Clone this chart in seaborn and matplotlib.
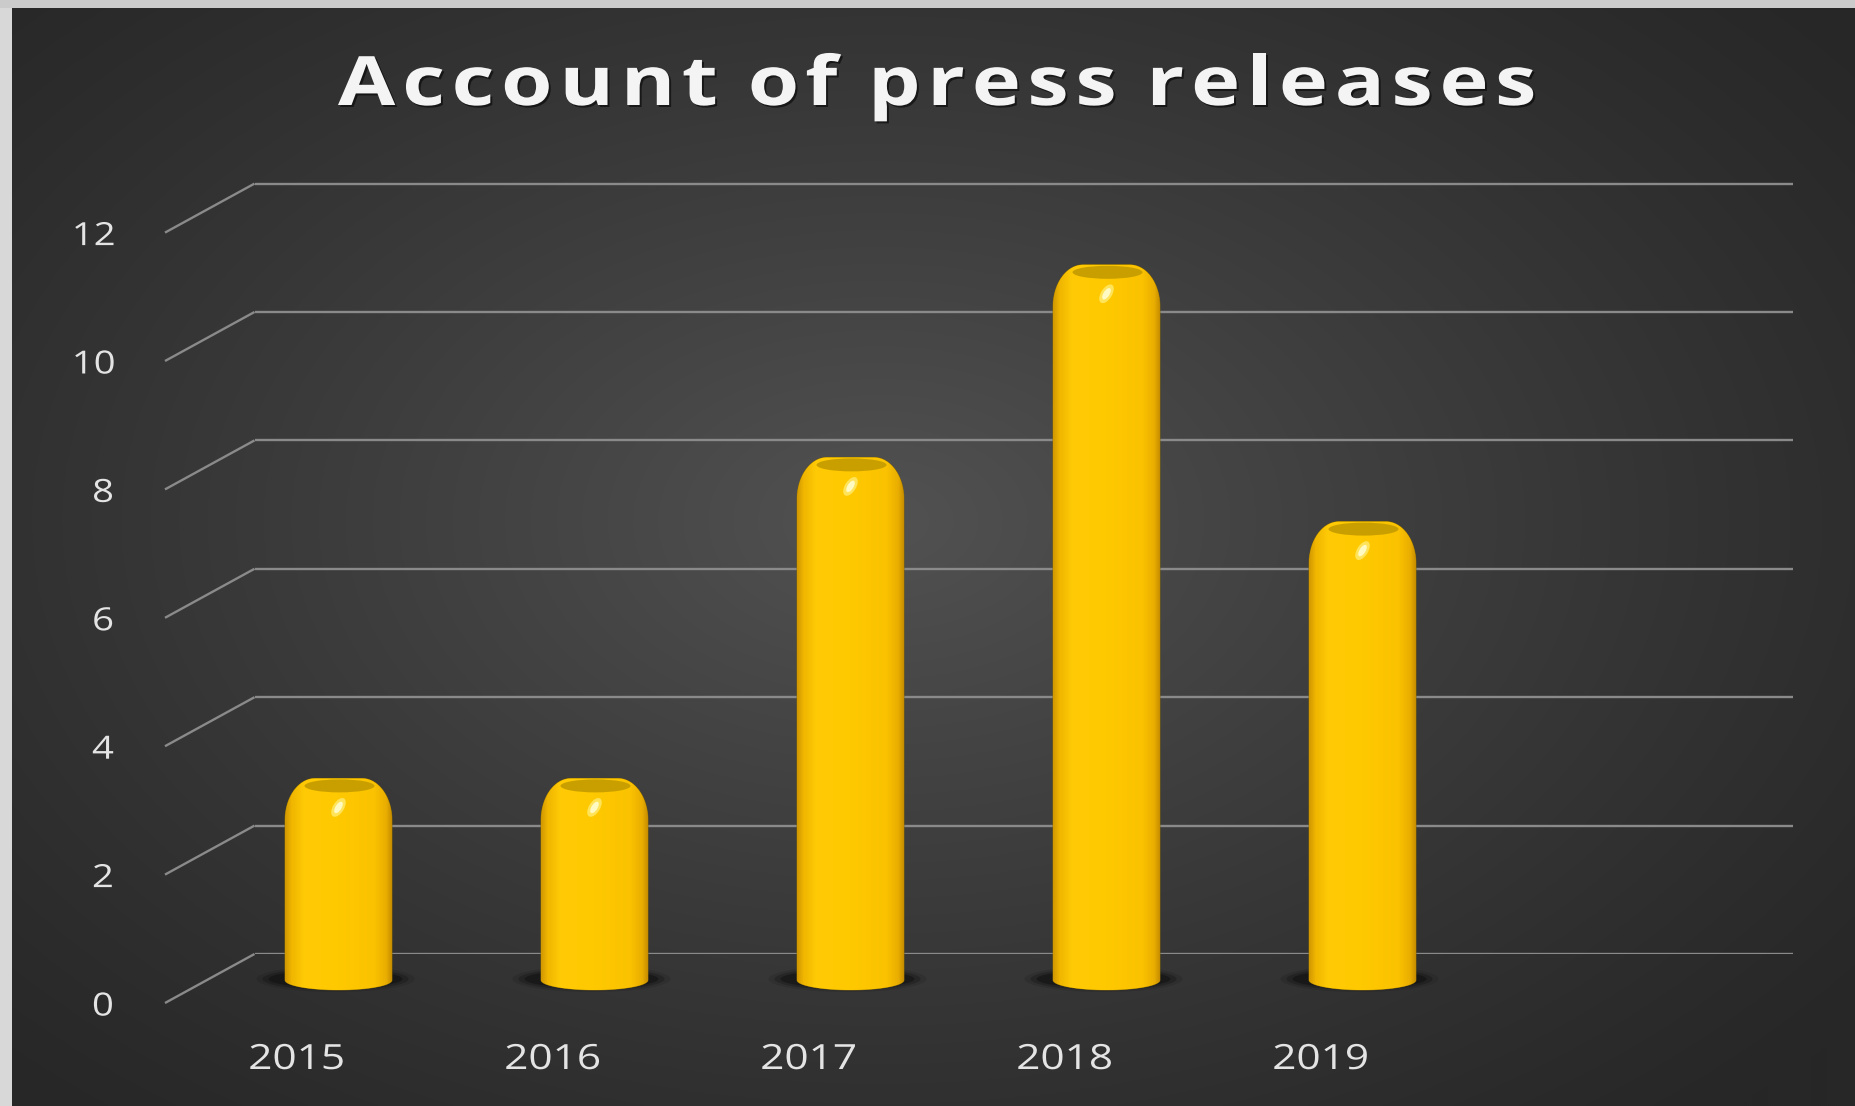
import numpy as np
import matplotlib
matplotlib.use("Agg")
import matplotlib.pyplot as plt
import seaborn as sns
import pandas as pd
from matplotlib import transforms, patheffects
from matplotlib.patches import Polygon, Ellipse, Rectangle
from matplotlib.colors import LinearSegmentedColormap

# ---------------- data ----------------
years = ["2015", "2016", "2017", "2018", "2019"]
counts = [3, 3, 8, 11, 7]
y_ticks = [0, 2, 4, 6, 8, 10, 12]
title = "Account of press releases"

# ---------------- setup ----------------
W, H = 1855, 1106
DPI = 100
sns.set_theme(style="white")
plt.rcParams['font.family'] = ['Open Sans', 'DejaVu Sans']

fig = plt.figure(figsize=(W / DPI, H / DPI), dpi=DPI)
fig.patch.set_facecolor('#2a2a2a')


class Stretch(patheffects.AbstractPathEffect):
    """Widen glyphs horizontally about their centre, optional drop shadow."""

    def __init__(self, sx=1.2, shadow=False, offset=(2, -2), alpha=0.5):
        super().__init__()
        self.sx = sx
        self.shadow = shadow
        self.off = offset
        self.alpha = alpha

    def draw_path(self, renderer, gc, tpath, affine, rgbFace=None):
        v = tpath.vertices
        cx = (v[:, 0].min() + v[:, 0].max()) / 2 if len(v) else 0
        st = transforms.Affine2D().translate(-cx, 0).scale(self.sx, 1).translate(cx, 0)
        if self.shadow:
            gc0 = renderer.new_gc()
            gc0.copy_properties(gc)
            gc0.set_foreground('black')
            gc0.set_alpha(self.alpha)
            renderer.draw_path(gc0, tpath,
                               st + affine + transforms.Affine2D().translate(*self.off),
                               (0, 0, 0))
            gc0.restore()
        renderer.draw_path(gc, tpath, st + affine, rgbFace)


def fig_rect(left, top, right, bottom):
    return [left / W, 1 - bottom / H, (right - left) / W, (bottom - top) / H]


# background with radial light
bg = fig.add_axes([0, 0, 1, 1])
bg.axis('off')
yy, xx = np.mgrid[0:H:2, 0:W:2]
r = np.sqrt(((xx - 880) / 1250.0) ** 2 + ((yy - 520) / 800.0) ** 2)
val = 39 + 43 * np.clip(1 - r, 0, 1) ** 1.2
img = np.dstack([val, val, val]) / 255.0
bg.imshow(img, extent=(0, W, H, 0), interpolation='bilinear', aspect='auto', zorder=0)
bg.set_xlim(0, W)
bg.set_ylim(H, 0)
bg.add_patch(Rectangle((0, 0), 12, H, color='#d8d8d8', lw=0, zorder=1))
bg.add_patch(Rectangle((0, 0), W, 8, color='#cbcbcb', lw=0, zorder=1))

# ---------------- back wall gridlines ----------------
GX0, GX1 = 254.5, 1793.0
GY0, GS = 954.0, 64.2
FX = 165.0
GRID_C = '#8a8a8a'
TXT_C = '#e4e4e4'
gax = fig.add_axes(fig_rect(GX0, GY0 - 13.5 * GS, GX1, GY0))
gax.set_ylim(0, 13.5)
gax.set_xlim(0, 1)
gax.patch.set_alpha(0)
gax.set_yticks(y_ticks)
gax.set_xticks([])
gax.tick_params(left=False, labelleft=False, bottom=False, labelbottom=False)
gax.grid(axis='y', color=GRID_C, lw=1.7)
sns.despine(ax=gax, left=True, bottom=True)
ytr = gax.get_yaxis_transform()
dx = -(GX0 - FX) / (GX1 - GX0)
for v in y_ticks:
    gax.plot([dx, 0], [v - 49 / GS, v], transform=ytr, clip_on=False,
             color=GRID_C, lw=1.7, solid_capstyle='butt')
    gax.text(-(GX0 - 112) / (GX1 - GX0), v - 53 / GS, str(v), transform=ytr,
             ha='right', va='center', color=TXT_C, fontsize=23,
             path_effects=[Stretch(1.2)])

# ---------------- bars ----------------
BX0, BS, BY0 = 338.5, 256.0, 980.0
bl, br = FX, GX1
bax = fig.add_axes(fig_rect(bl, BY0 - 13.5 * GS, br, BY0 + 0.6 * GS))
df = pd.DataFrame({'year': years, 'count': counts})
sns.barplot(data=df, x='year', y='count', color='#FFC800', width=107 / BS,
            ax=bax, saturation=1)
xl = ((bl - BX0) / BS, (br - BX0) / BS)
yl = (-0.6, 13.5)
bax.axis('off')

px = 1 / BS
py = 1 / GS
cmap = LinearSegmentedColormap.from_list('cyl', [
    (0.0, '#D29800'), (0.06, '#EFB500'), (0.18, '#FFCB06'), (0.5, '#FFC900'),
    (0.84, '#FAC200'), (0.95, '#E8AD00'), (1.0, '#C68D00')])
grad = np.linspace(0, 1, 256).reshape(1, -1)

for p in list(bax.patches):
    x0 = p.get_x()
    w = p.get_width()
    v = p.get_height()
    x1 = x0 + w
    xc = x0 + w / 2
    p.set_visible(False)
    rx, ry = 30 * px, 42 * py
    top = v + 9 * py
    d = 10 * py
    pts = []
    th = np.linspace(np.pi, 2 * np.pi, 40)
    pts += list(zip(xc + (w / 2) * np.cos(th), d * np.sin(th)))
    th = np.linspace(0, np.pi / 2, 24)
    pts += list(zip(x1 - rx + rx * np.cos(th), top - ry + ry * np.sin(th)))
    th = np.linspace(np.pi / 2, np.pi, 24)
    pts += list(zip(x0 + rx + rx * np.cos(th), top - ry + ry * np.sin(th)))
    poly = Polygon(pts, closed=True, facecolor='#FFC800', edgecolor='#8a6a00',
                   lw=0.6, zorder=3)
    bax.add_patch(poly)
    im = bax.imshow(grad, extent=(x0, x1, -d, top), cmap=cmap, aspect='auto',
                    zorder=4, interpolation='bilinear')
    im.set_clip_path(poly)

    # floor shadow
    base = transforms.ScaledTranslation(xc, 0, bax.transData)
    for ww, hh, a in [(158, 26, 0.10), (146, 22, 0.2), (134, 18, 0.3)]:
        bax.add_patch(Ellipse((-3, 1), ww, hh, transform=base,
                              facecolor='black', alpha=a, lw=0, zorder=2))
    # top cap ellipse
    topt = transforms.ScaledTranslation(xc, v, bax.transData)
    bax.add_patch(Ellipse((1, 1.5), 70, 13, transform=topt,
                          facecolor='#C99F00', lw=0, zorder=5))
    # highlight
    hl = transforms.Affine2D().rotate_deg(-32).translate(0, -20) + topt
    bax.add_patch(Ellipse((0, 0), 11, 21, transform=hl,
                          facecolor='#FFE45A', lw=0, zorder=6))
    bax.add_patch(Ellipse((0, 0), 6, 13, transform=hl,
                          facecolor='#FFF9C4', lw=0, zorder=7))

bax.set_xlim(*xl)
bax.set_ylim(*yl)

# x labels (category names) shifted for perspective
lab_tr = transforms.offset_copy(bax.get_xaxis_transform(), fig=fig,
                                x=-42, y=-(1060 - (BY0 + 0.6 * GS)), units='dots')
for i, yr in enumerate(years):
    bax.text(i, 0, yr, transform=lab_tr, ha='center', va='center',
             fontsize=25, color=TXT_C, clip_on=False,
             path_effects=[Stretch(1.22)])

# ---------------- title with letter spacing ----------------
tfs = 49
SX = 1.22
tprops = dict(fontsize=tfs, fontweight='bold', color='#f4f4f4')
renderer = fig.canvas.get_renderer()
widths = []
for ch in title:
    if ch == ' ':
        widths.append(0.24 * tfs * DPI / 72)
    else:
        t = bg.text(0, 0, ch, **tprops)
        widths.append(t.get_window_extent(renderer).width * SX)
        t.remove()
target = 1198.0
spacing = (target - sum(widths)) / (len(title) - 1)
x = 937 - target / 2
for ch, wch in zip(title, widths):
    if ch != ' ':
        bg.text(x + wch / 2, 105, ch, ha='center', va='baseline', zorder=10,
                path_effects=[Stretch(SX, shadow=True, offset=(2, -2), alpha=0.55)],
                **tprops)
    x += wch + spacing

fig.savefig('out.png', dpi=DPI, facecolor=fig.get_facecolor())
